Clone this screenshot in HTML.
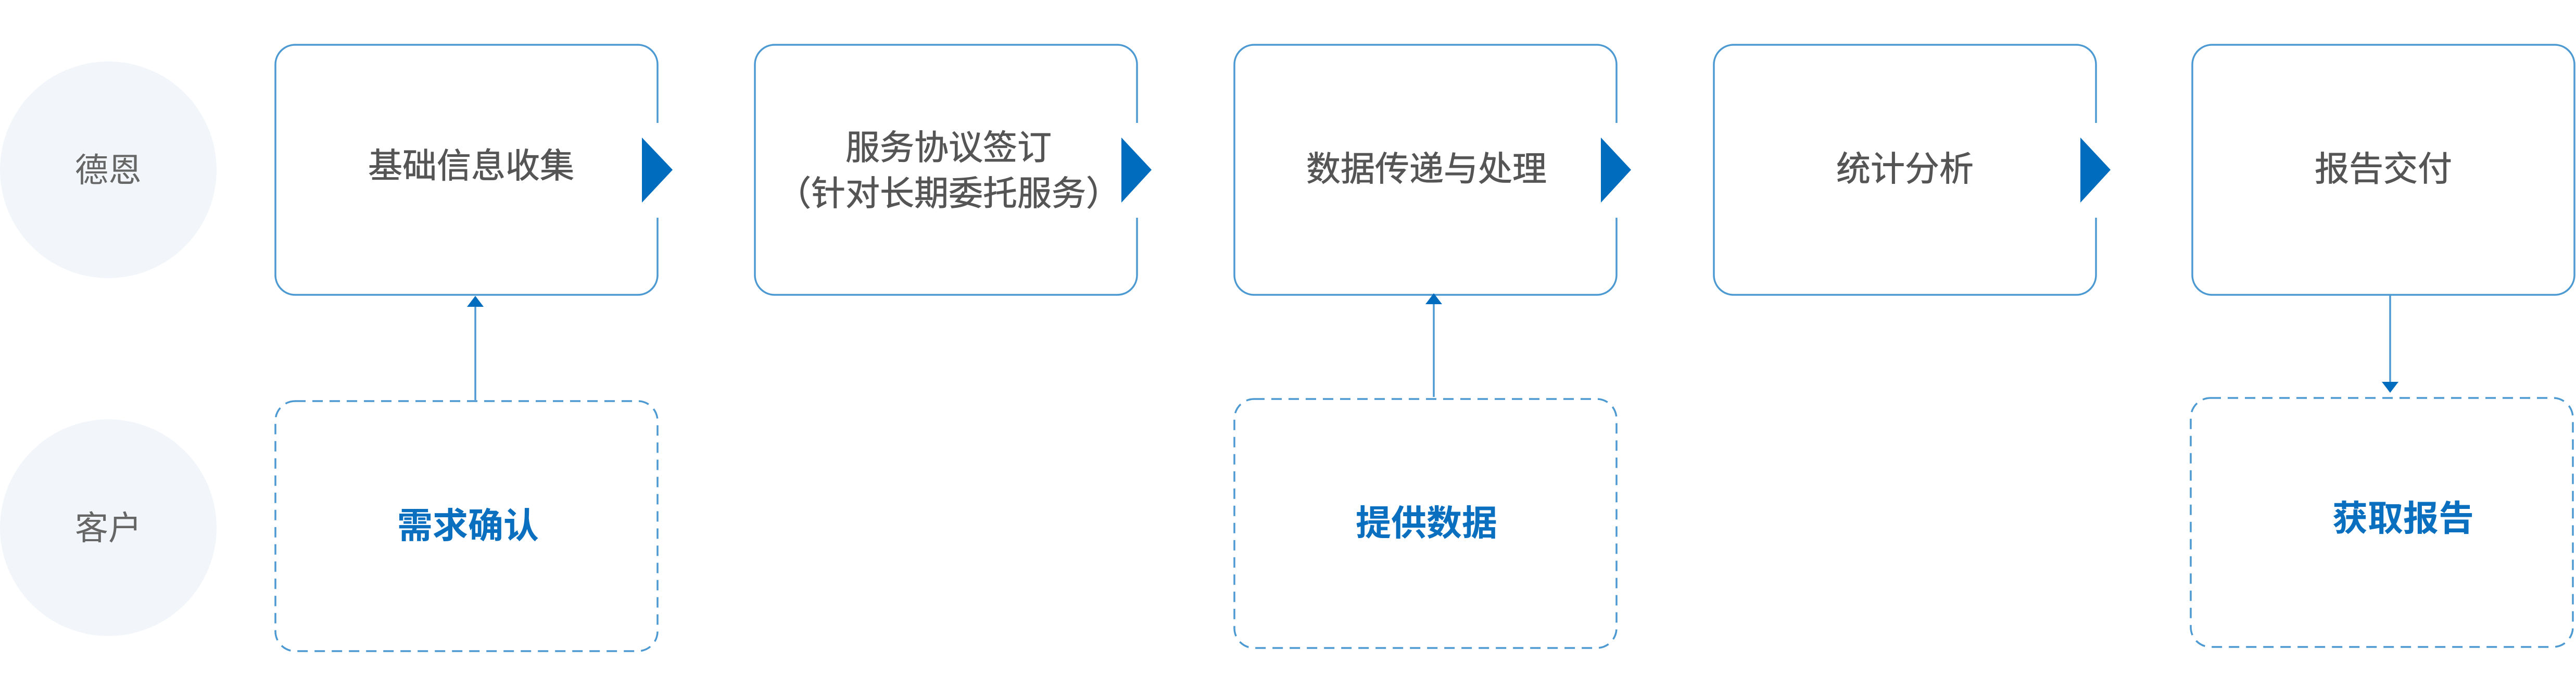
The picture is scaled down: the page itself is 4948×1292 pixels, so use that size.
<!DOCTYPE html>
<html><head><meta charset="utf-8"><style>
html,body{margin:0;padding:0;background:#fff;width:4948px;height:1292px;overflow:hidden}
text{font-family:"Liberation Sans","Noto Sans CJK SC",sans-serif}
</style></head><body>
<svg width="4948" height="1292" viewBox="0 0 4948 1292" xmlns="http://www.w3.org/2000/svg">
<circle cx="208" cy="326" r="208" fill="#f2f6fa"/>
<circle cx="208" cy="1013" r="208" fill="#f2f6fa"/>
<text x="208" y="349" font-size="64" fill="#666" text-anchor="middle">德恩</text>
<text x="208" y="1036" font-size="64" fill="#666" text-anchor="middle">客户</text>
<g fill="none" stroke="#4d9ad3" stroke-width="3.5">
<rect x="529" y="86" width="734" height="480" rx="38"/>
<rect x="1450" y="86" width="734" height="480" rx="38"/>
<rect x="2371" y="86" width="734" height="480" rx="38"/>
<rect x="3292" y="86" width="734" height="480" rx="38"/>
<rect x="4211" y="86" width="734" height="480" rx="38"/>
</g>
<g fill="#fff">
<rect x="1255" y="236" width="20" height="182"/>
<rect x="2176" y="236" width="20" height="182"/>
<rect x="3097" y="236" width="20" height="182"/>
<rect x="4018" y="236" width="20" height="182"/>
</g>
<g fill="#006cbe">
<polygon points="1233,264 1292,326 1233,389"/>
<polygon points="2154,264 2212,326 2154,389"/>
<polygon points="3075,264 3133,326 3075,389"/>
<polygon points="3996,264 4054,326 3996,389"/>
</g>
<g fill="none" stroke="#4d9ad3" stroke-width="3.5" stroke-dasharray="20 13">
<rect x="529" y="770" width="734" height="480" rx="38"/>
<rect x="2371" y="766" width="734" height="478" rx="38"/>
<rect x="4208" y="764" width="734" height="478" rx="38"/>
</g>
<g stroke="#4d9ad3" stroke-width="3.5">
<line x1="913" y1="768" x2="913" y2="585"/>
<line x1="2754" y1="762" x2="2754" y2="580"/>
<line x1="4591" y1="566" x2="4591" y2="740"/>
</g>
<g fill="#006cbe">
<polygon points="913,568 897,589 929,589"/>
<polygon points="2754,563 2738,584 2770,584"/>
<polygon points="4591,754 4575,733 4607,733"/>
</g>
<g font-size="66" fill="#555" stroke="#555" stroke-width="0.8" text-anchor="middle">
<text x="905" y="341">基础信息收集</text>
<text x="1822" y="306">服务协议签订</text>
<text x="1822" y="394">（针对长期委托服务）</text>
<text x="2740" y="347">数据传递与处理</text>
<text x="3659" y="347">统计分析</text>
<text x="4578" y="347">报告交付</text>
</g>
<g font-size="68" fill="#0a6fbf" font-weight="bold" text-anchor="middle">
<text x="899" y="1033">需求确认</text>
<text x="2740" y="1028">提供数据</text>
<text x="4616" y="1019">获取报告</text>
</g>
</svg>
</body></html>
